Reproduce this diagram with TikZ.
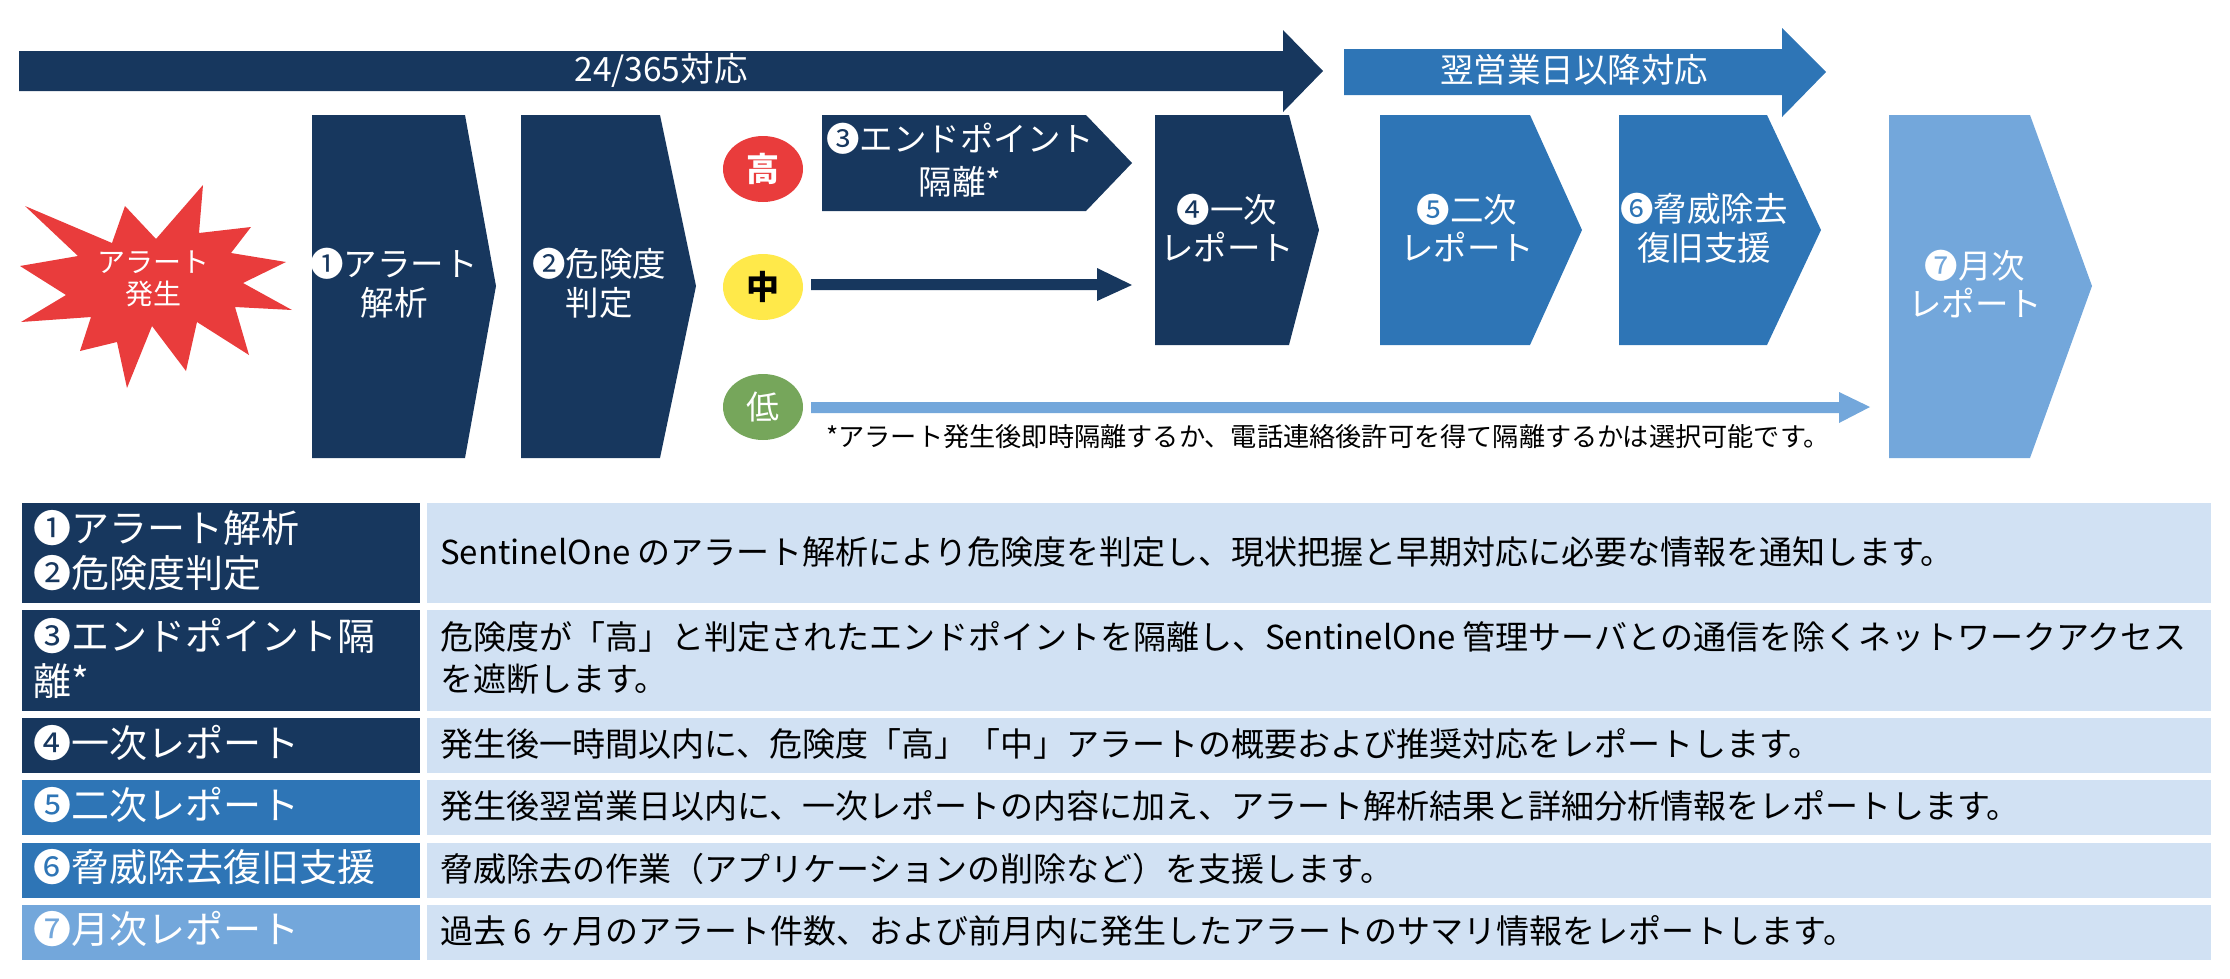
\documentclass[tikz,border=0pt]{standalone}
\usepackage{fontspec}
\setmainfont{Noto Sans CJK JP}
\definecolor{navy}{HTML}{17375E}
\definecolor{midblue}{HTML}{2E75B6}
\definecolor{lightblue}{HTML}{73A7DB}
\definecolor{pale}{HTML}{D1E1F3}
\definecolor{redc}{HTML}{E93C3C}
\definecolor{yelc}{HTML}{FFE94A}
\definecolor{grnc}{HTML}{76A65B}
\newcommand{\fs}[1]{\fontsize{#1}{#1}\selectfont}
\newcommand{\cn}[1]{\symbol{#1}}
\tikzset{
 x=1pt,y=-1pt,
 lbl/.style={text=white,align=center,inner sep=0,font=\fs{33.5}},
 lblsm/.style={text=white,align=center,inner sep=0,font=\fs{28}},
 head/.style={text=white,align=left,anchor=west,inner sep=0,font=\fs{38}},
 desc/.style={text=black,align=left,anchor=west,inner sep=0,font=\fs{33}},
 circ/.style={ellipse,minimum width=80pt,minimum height=66pt,inner sep=0},
}
\usetikzlibrary{shapes.geometric}
\begin{document}
\begin{tikzpicture}
\useasboundingbox (0,0) rectangle (2230,978);
% top arrows
\fill[navy] (19,51)--(1283,51)--(1283,30)--(1323,71)--(1283,112)--(1283,91)--(19,91)--cycle;
\node[lbl] (t1) at (661,70) {24/365対応};
\fill[midblue] (1344,49)--(1782,49)--(1782,28)--(1826,72)--(1782,117)--(1782,95)--(1344,95)--cycle;
\node[lbl] (t2) at (1574,70) {翌営業日以降対応};
% star
\fill[redc] (203,185)--(199,233)--(251,227)--(231,253)--(286,262)--(243,283)--(292,310)--(235,307)--(249,355)--(197,322)--(186,371)--(152,326)--(127,388)--(117,342)--(80,351)--(91,317)--(21,322)--(66,295)--(20,266)--(78,256)--(25,206)--(112,243)--(125,206)--(156,239)--cycle;
\node[lblsm] (s) at (153,279) {アラート\\[4pt]発生};
% pentagons
\fill[navy] (312,115)--(465,115)--(496,286)--(465,458)--(312,458)--cycle;
\node[lbl] (p1) at (394,283) {\cn{"2776}アラート\\[5pt]解析};
\fill[navy] (521,115)--(660,115)--(696,286)--(660,458)--(521,458)--cycle;
\node[lbl] (p2) at (599,283) {\cn{"2777}危険度\\[5pt]判定};
\fill[navy] (822,115)--(1086,115)--(1132,163)--(1086,211)--(822,211)--cycle;
\node[lbl] (p3) at (960,160) {\cn{"2778}エンドポイント\\[9pt]隔離*};
\fill[navy] (1155,115)--(1289,115)--(1319,230)--(1289,345)--(1155,345)--cycle;
\node[lbl] (p4) at (1227,228) {\cn{"2779}一次\\[5pt]レポート};
\fill[midblue] (1380,115)--(1530,115)--(1582,230)--(1530,345)--(1380,345)--cycle;
\node[lbl] (p5) at (1467,228) {\cn{"277A}二次\\[5pt]レポート};
\fill[midblue] (1619,115)--(1767,115)--(1821,230)--(1767,345)--(1619,345)--cycle;
\node[lbl] (p6) at (1704,228) {\cn{"277B}脅威除去\\[5pt]復旧支援};
\fill[lightblue] (1889,115)--(2030,115)--(2092,286)--(2030,458)--(1889,458)--cycle;
\node[lbl] (p7) at (1975,284) {\cn{"277C}月次\\[5pt]レポート};
% level circles
\node[circ,fill=redc,text=white,font=\fs{33}\bfseries] (hi) at (763,169) {高};
\node[circ,fill=yelc,text=black,font=\fs{33}\bfseries] (mi) at (763,287) {中};
\node[circ,fill=grnc,text=white,font=\fs{33}] (lo) at (763,407) {低};
% connectors
\coordinate (me) at (1132,285);
\coordinate (le) at (1870,407);
\fill[navy] (811,279)--(1097,279)--(1097,268)--(me)--(1097,301)--(1097,290)--(811,290)--cycle;
\fill[lightblue] (811,402)--(1839,402)--(1839,392)--(le)--(1839,423)--(1839,413)--(811,413)--cycle;
\node[text=black,anchor=west,inner sep=0,font=\fs{26.2}] (note) at (826,437) {*アラート発生後即時隔離するか、電話連絡後許可を得て隔離するかは選択可能です。};
% table
\fill[navy] (22,503) rectangle (420,603);
\fill[navy] (22,610) rectangle (420,711);
\fill[navy] (22,718) rectangle (420,773);
\fill[midblue] (22,780) rectangle (420,835);
\fill[midblue] (22,843) rectangle (420,898);
\fill[lightblue] (22,905) rectangle (420,960);
\foreach \a/\b in {503/603,610/711,718/773,780/835,843/898,905/960}
  \fill[pale] (427,\a) rectangle (2211,\b);
\node[head] (h1) at (33,551) {\cn{"2776}アラート解析\\[7pt]\cn{"2777}危険度判定};
\node[head] (h2) at (33,658) {\cn{"2778}エンドポイント隔\\[7pt]離*};
\node[head] (h3) at (33,743) {\cn{"2779}一次レポート};
\node[head] (h4) at (33,805) {\cn{"277A}二次レポート};
\node[head] (h5) at (33,867) {\cn{"277B}脅威除去復旧支援};
\node[head] (h6) at (33,929) {\cn{"277C}月次レポート};
\node[desc] (d1) at (440,552) {SentinelOne のアラート解析により危険度を判定し、現状把握と早期対応に必要な情報を通知します。};
\node[desc] (d2) at (440,658) {危険度が「高」と判定されたエンドポイントを隔離し、SentinelOne 管理サーバとの通信を除くネットワークアクセス\\[9pt]を遮断します。};
\node[desc] (d3) at (440,744) {発生後一時間以内に、危険度「高」「中」アラートの概要および推奨対応をレポートします。};
\node[desc] (d4) at (440,806) {発生後翌営業日以内に、一次レポートの内容に加え、アラート解析結果と詳細分析情報をレポートします。};
\node[desc] (d5) at (440,869) {脅威除去の作業（アプリケーションの削除など）を支援します。};
\node[desc] (d6) at (440,931) {過去 6 ヶ月のアラート件数、および前月内に発生したアラートのサマリ情報をレポートします。};
\end{tikzpicture}
\end{document}
